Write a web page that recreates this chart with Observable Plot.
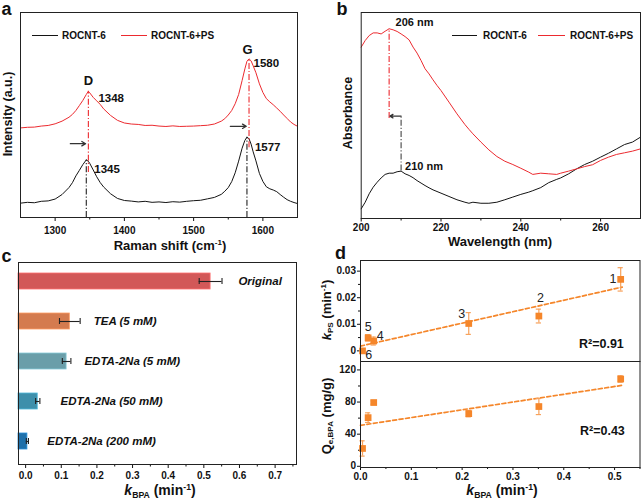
<!DOCTYPE html>
<html><head><meta charset="utf-8">
<script src="https://cdn.jsdelivr.net/npm/d3@7"></script>
<script src="https://cdn.jsdelivr.net/npm/@observablehq/plot@0.6"></script>
<style>
html,body{margin:0;padding:0;background:#fff;}
#root{position:relative;width:641px;height:500px;overflow:hidden;font-family:"Liberation Sans",Arial,Helvetica,sans-serif;color:#111;}
#root svg{position:absolute;overflow:visible;}
.t{position:absolute;white-space:nowrap;font-weight:bold;line-height:1;}
.t sub,.t sup{font-size:0.62em;line-height:0;}
.t sub{vertical-align:-0.35em;}
.t sup{vertical-align:0.6em;}
</style></head><body><div id="root"></div>
<script>
// ---------------- data ----------------
// (a) Raman spectra
const ramanShift = [1250,1260,1270,1280,1290,1300,1310,1320,1325,1330,1335,1340,1345,1348,1350,1355,1360,1365,1370,1380,1390,1400,1410,1420,1430,1440,1450,1460,1470,1480,1490,1500,1510,1520,1530,1540,1545,1550,1555,1560,1565,1570,1574,1577,1580,1583,1586,1590,1595,1600,1605,1610,1615,1620,1625,1630,1635,1640,1645,1650];
const ramanROCNT6 = [7.0,7.4,7.2,7.9,8.1,9.0,11.2,14.6,17.0,20.3,23.0,25.8,28.1,27.4,26.4,23.2,19.9,17.1,14.9,11.6,9.3,8.3,8.0,7.6,7.9,7.4,7.6,7.3,7.7,7.5,7.9,8.2,8.4,9.1,9.8,11.3,12.8,14.6,17.5,21.8,27.5,33.8,37.6,39.2,38.4,35.8,32.0,27.6,21.5,17.6,15.0,14.0,13.4,12.6,11.2,9.9,8.7,7.9,7.3,6.8];
const ramanROCNT6PS = [43.7,44.0,44.1,44.6,44.9,45.7,47.0,48.9,50.3,52.2,54.6,57.1,60.0,61.6,60.8,58.6,56.9,55.2,53.0,49.8,47.4,46.1,45.6,45.4,44.9,45.0,44.6,44.4,44.7,44.4,44.5,44.6,44.8,45.0,45.6,47.0,48.2,50.0,52.2,55.5,60.0,66.8,72.5,76.2,77.4,76.4,74.0,70.6,65.2,61.0,58.0,56.4,55.0,53.4,51.8,50.0,48.3,46.6,45.4,44.5];
// (b) UV-vis absorbance
const uvWavelength = [200,201,202,203,204,205,206,207,208,209,210,211,212,213,214,215,216,217,218,219,220,222,224,226,227,228,230,232,234,236,238,240,242,243,245,247,249,250,252,254,256,258,260,262,264,266,268,270];
const uvROCNT6 = [4.7,7.9,12.0,15.2,17.6,19.7,21.4,22.0,22.0,22.7,23.0,21.7,20.9,19.8,18.4,17.2,16.0,14.9,13.9,13.1,12.3,10.7,9.1,7.9,7.4,7.9,7.4,7.4,7.9,9.1,10.4,11.7,12.8,13.5,15.0,17.4,19.0,19.7,21.7,24.1,26.2,27.8,29.8,31.7,33.8,35.9,37.1,39.5];
const uvROCNT6PS = [83.2,86.4,88.8,90.1,90.1,89.6,90.9,92.1,91.6,90.8,89.6,88.3,86.7,83.2,80.3,76.7,72.7,70.2,67.3,64.6,62.1,56.5,50.8,45.6,43.3,41.1,37.1,33.3,30.1,27.8,26.2,24.4,22.5,21.4,22.0,21.7,21.4,22.0,23.0,24.1,25.2,26.1,28.2,29.8,31.1,31.9,32.7,33.8];
// (c) scavenger experiments
const scavengers = ["Original","TEA (5 mM)","EDTA-2Na (5 mM)","EDTA-2Na (50 mM)","EDTA-2Na (200 mM)"];
const kBPA = [0.519,0.124,0.115,0.034,0.005];
const kBPAErr = [0.032,0.029,0.012,0.006,0.003];
const barColors = ["#d25858","#d47b4f","#6a9ea9","#3e8fab","#1f70aa"];
const scavLabelX = [0.597,0.191,0.165,0.098,0.061];
// (d) correlations
const dKBPA = [0.512,0.351,0.213,0.026,0.015,0.004];
const dKPS = [0.0269,0.0131,0.0103,0.0037,0.0049,0.0];
const dKPSErr = [0.0044,0.0026,0.0041,0.0015,0.0012,0];
const dQe = [108.7,74.4,65.6,79.4,60.6,22.2];
const dQeErr = [4,10,4,2,6,9.5];
const dPointIds = ["1","2","3","4","5","6"];
const dIdX = [0.497,0.354,0.199,0.039,0.015,0.016];
const dIdY = [0.0272,0.0199,0.0137,0.0055,0.0088,-0.0017];
const fitX = [0,0.515];
const fitKPS = [0.0018,0.0240];
const fitQe = [51,100.8];

// ---------------- helpers ----------------
const root = document.getElementById("root");
const FONT = '"Liberation Sans", Arial, Helvetica, sans-serif';
const baseStyle = {fontFamily: FONT, fontSize: "10px", fontWeight: "bold", color: "#111", background: "transparent", overflow: "visible"};
function add(svg, left, top){ svg.style.left = left + "px"; svg.style.top = top + "px"; svg.style.position = "absolute"; root.appendChild(svg); }
function textAt(html, x, baseline, size, anchor, extra){
  const d = document.createElement("div"); d.className = "t"; d.innerHTML = html;
  d.style.fontSize = size + "px"; d.style.top = (baseline - 0.85 * size) + "px"; d.style.left = x + "px";
  if (anchor === "middle") d.style.transform = "translateX(-50%)";
  if (extra) Object.assign(d.style, extra);
  root.appendChild(d);
}
function vText(html, cx, cy, size){
  const d = document.createElement("div"); d.className = "t"; d.innerHTML = html;
  d.style.fontSize = size + "px"; d.style.left = cx + "px"; d.style.top = cy + "px";
  d.style.transform = "translate(-50%,-50%) rotate(-90deg)";
  root.appendChild(d);
}
function legLine(x1, x2, y, color){
  const d = document.createElement("div");
  d.style.cssText = `position:absolute;left:${x1}px;top:${y - 0.6}px;width:${x2 - x1}px;height:1.2px;background:${color}`;
  root.appendChild(d);
}
const DASHDOT = "6,2,1.2,2";
const RED = "#ec2a2f", BLACK = "#141414";

// ---------------- (a) Raman ----------------
const ramanData = ramanShift.map((x, i) => ({x, b: ramanROCNT6[i], r: ramanROCNT6PS[i]}));
const aRules = [
  {x: 1345, y1: 0, y2: 28.1, c: "#222"},
  {x: 1348, y1: 22, y2: 61.6, c: RED},
  {x: 1577, y1: 0, y2: 39.2, c: "#222"},
  {x: 1580, y1: 34, y2: 77.4, c: RED}
];
const aArrows = [{x1: 1322, x2: 1344, y: 36}, {x1: 1553, x2: 1576, y: 44.5}];
const aPeakNames = [{x: 1348, y: 66.8, t: "D"}, {x: 1578, y: 81.8, t: "G"}];
const aPeakVals = [{x: 1381, y: 57.9, t: "1348"}, {x: 1375, y: 23.7, t: "1345"}, {x: 1605, y: 75, t: "1580"}, {x: 1607, y: 34.3, t: "1577"}];
add(Plot.plot({
  width: 320, height: 250, marginLeft: 20, marginRight: 23, marginTop: 12, marginBottom: 33,
  style: baseStyle,
  x: {domain: [1250, 1650]}, y: {domain: [0, 100], axis: null},
  marks: [
    Plot.axisX({ticks: [1300, 1400, 1500, 1600], tickSize: 4, tickPadding: 5, tickFormat: d => String(d), label: null}),
    Plot.axisX({ticks: [1350, 1450, 1550], tickSize: 2.5, tickFormat: () => "", label: null}),
    Plot.line(ramanData, {x: "x", y: "b", stroke: BLACK, strokeWidth: 1}),
    Plot.line(ramanData, {x: "x", y: "r", stroke: RED, strokeWidth: 1}),
    Plot.ruleX(aRules, {x: "x", y1: "y1", y2: "y2", stroke: d => d.c, strokeDasharray: DASHDOT, strokeWidth: 1.1}),
    Plot.arrow(aArrows, {x1: "x1", x2: "x2", y1: "y", y2: "y", stroke: "#333", strokeWidth: 1.3, headLength: 5}),
    Plot.text(aPeakNames, {x: "x", y: "y", text: "t", fontSize: 13, fill: "#111"}),
    Plot.text(aPeakVals, {x: "x", y: "y", text: "t", fontSize: 11.5, fill: "#111"}),
    Plot.frame({stroke: "#222"})
  ]
}), 0, 0);

// ---------------- (b) UV-vis ----------------
const uvData = uvWavelength.map((x, i) => ({x, b: uvROCNT6[i], r: uvROCNT6PS[i]}));
const bRules = [{x: 207, y1: 48.5, y2: 92.1, c: RED}, {x: 210, y1: 23.0, y2: 50.0, c: "#444"}];
const bArrows = [{x1: 210, x2: 207.2, y: 49.7}];
const bLabels = [{x: 208.6, y: 95, t: "206 nm"}, {x: 211, y: 25.4, t: "210 nm"}];
add(Plot.plot({
  width: 321, height: 250, marginLeft: 40.7, marginRight: 1, marginTop: 12, marginBottom: 32,
  style: baseStyle,
  x: {domain: [200, 270]}, y: {domain: [0, 100], axis: null},
  marks: [
    Plot.axisX({ticks: [200, 220, 240, 260], tickSize: 3.5, tickPadding: 2, tickFormat: d => String(d), label: null}),
    Plot.axisX({ticks: [210, 230, 250], tickSize: 2.5, tickFormat: () => "", label: null}),
    Plot.line(uvData, {x: "x", y: "b", stroke: BLACK, strokeWidth: 1}),
    Plot.line(uvData, {x: "x", y: "r", stroke: RED, strokeWidth: 1}),
    Plot.ruleX(bRules, {x: "x", y1: "y1", y2: "y2", stroke: d => d.c, strokeDasharray: DASHDOT, strokeWidth: 1.1}),
    Plot.arrow(bArrows, {x1: "x1", x2: "x2", y1: "y", y2: "y", stroke: "#333", strokeWidth: 1.3, headLength: 4}),
    Plot.text(bLabels, {x: "x", y: "y", text: "t", textAnchor: "start", fontSize: 11, fill: "#111"}),
    Plot.frame({stroke: "#222"})
  ]
}), 320, 0);

// ---------------- (c) scavengers ----------------
const cXDomain = [-0.02, 0.76];
const cData = scavengers.map((name, i) => ({name, k: kBPA[i], err: kBPAErr[i], color: barColors[i], lx: scavLabelX[i]}));
add(Plot.plot({
  width: 320, height: 250, marginLeft: 18, marginRight: 24, marginTop: 12, marginBottom: 36,
  style: baseStyle,
  color: {type: "identity"},
  x: {domain: cXDomain},
  y: {domain: scavengers, paddingInner: 0.61, paddingOuter: 0.27, align: 0.4, axis: null},
  marks: [
    Plot.axisX({ticks: d3.range(0, 8).map(i => i / 10), tickSize: 4, tickPadding: 3, tickFormat: d3.format(".1f"), label: null}),
    Plot.axisX({ticks: d3.range(0, 8).map(i => i / 10 + 0.05), tickSize: 2.5, tickFormat: () => "", label: null}),
    Plot.barX(cData, {x1: cXDomain[0], x2: "k", y: "name", fill: "color", stroke: d => d3.color(d.color).brighter(0.7).formatHex(), strokeWidth: 0.8}),
    Plot.ruleY(cData, {y: "name", x1: d => d.k - d.err, x2: d => d.k + d.err, stroke: "#222", strokeWidth: 1.1}),
    Plot.tickX(cData, {y: "name", x: d => d.k - d.err, insetTop: 5, insetBottom: 5, stroke: "#222", strokeWidth: 1.1}),
    Plot.tickX(cData, {y: "name", x: d => d.k + d.err, insetTop: 5, insetBottom: 5, stroke: "#222", strokeWidth: 1.1}),
    Plot.text(cData, {x: "lx", y: "name", text: "name", textAnchor: "start", fontStyle: "italic", fontWeight: "bold", fontSize: 11.5, fill: "#111"}),
    Plot.frame({stroke: "#222"})
  ]
}), 0, 250);

// ---------------- (d) correlations ----------------
const dXDomain = [0, 0.55];
const dInnerW = 321 - 40 - 1.5;
const capHalf = 2.6 * (dXDomain[1] - dXDomain[0]) / dInnerW;
const ORANGE = "#f5862a", ORANGE_L = "#f7a25c";
const dData = dKBPA.map((x, i) => ({x, kps: dKPS[i], kpsErr: dKPSErr[i], qe: dQe[i], qeErr: dQeErr[i], id: dPointIds[i], ix: dIdX[i], iy: dIdY[i]}));
const fitData = fitX.map((x, i) => ({x, kps: fitKPS[i], qe: fitQe[i]}));
function errMarks(yk, ek){
  const f = dData.filter(d => d[ek] > 0);
  return [
    Plot.ruleX(f, {x: "x", y1: d => d[yk] - d[ek], y2: d => d[yk] + d[ek], stroke: ORANGE_L, strokeWidth: 1.2}),
    Plot.ruleY(f, {y: d => d[yk] + d[ek], x1: d => d.x - capHalf, x2: d => d.x + capHalf, stroke: ORANGE_L, strokeWidth: 1.2}),
    Plot.ruleY(f, {y: d => d[yk] - d[ek], x1: d => d.x - capHalf, x2: d => d.x + capHalf, stroke: ORANGE_L, strokeWidth: 1.2})
  ];
}
add(Plot.plot({
  width: 321, height: 111, marginLeft: 40, marginRight: 1.5, marginTop: 10, marginBottom: 0,
  style: baseStyle,
  x: {domain: dXDomain, axis: null}, y: {domain: [-0.004, 0.034]},
  marks: [
    Plot.axisY({ticks: [0, 0.01, 0.02, 0.03], tickSize: 3, tickPadding: 1.5, tickFormat: d => d === 0 ? "0" : d.toFixed(2), label: null}),
    Plot.axisY({ticks: [0.005, 0.015, 0.025], tickSize: 2, tickFormat: () => "", label: null}),
    Plot.line(fitData, {x: "x", y: "kps", stroke: ORANGE, strokeWidth: 1.7, strokeDasharray: "4,2.5"}),
    ...errMarks("kps", "kpsErr"),
    Plot.dot(dData, {x: "x", y: "kps", symbol: "square", r: 3.8, fill: ORANGE, stroke: "none"}),
    Plot.text(dData, {x: "ix", y: "iy", text: "id", fontSize: 12.5, fontWeight: "normal", fill: "#222"}),
    Plot.text(["R²=0.91"], {x: 0.474, y: 0.0024, text: d => d, fontSize: 12.5, fill: "#111"}),
    Plot.frame({stroke: "#222"})
  ]
}), 320, 250);
add(Plot.plot({
  width: 321, height: 139, marginLeft: 40, marginRight: 1.5, marginTop: 0, marginBottom: 33,
  style: baseStyle,
  x: {domain: dXDomain}, y: {domain: [-1.5, 130.5]},
  marks: [
    Plot.axisY({ticks: [0, 40, 80, 120], tickSize: 3, tickPadding: 1.5, tickFormat: d => String(d), label: null}),
    Plot.axisY({ticks: [20, 60, 100], tickSize: 2, tickFormat: () => "", label: null}),
    Plot.axisX({ticks: d3.range(0, 6).map(i => i / 10), tickSize: 3, tickPadding: 2, tickFormat: d3.format(".1f"), label: null}),
    Plot.axisX({ticks: d3.range(0, 6).map(i => i / 10 + 0.05), tickSize: 2, tickFormat: () => "", label: null}),
    Plot.line(fitData, {x: "x", y: "qe", stroke: ORANGE, strokeWidth: 1.7, strokeDasharray: "4,2.5"}),
    ...errMarks("qe", "qeErr"),
    Plot.dot(dData, {x: "x", y: "qe", symbol: "square", r: 3.8, fill: ORANGE, stroke: "none"}),
    Plot.text(["R²=0.43"], {x: 0.476, y: 43.9, text: d => d, fontSize: 12.5, fill: "#111"}),
    Plot.frame({stroke: "#222"})
  ]
}), 320, 361);

// ---------------- text overlays ----------------
textAt("a", 1.5, 15.5, 18);
textAt("b", 336.5, 15.5, 18);
textAt("c", 1.5, 262, 18);
textAt("d", 335, 259.5, 18);
// legends (a)
legLine(32, 58, 35.7, BLACK); textAt("ROCNT-6", 62, 39.3, 10);
legLine(121, 147, 35.7, RED); textAt("ROCNT-6+PS", 151, 39.3, 10);
// legends (b)
legLine(451.7, 476.7, 35.7, BLACK); textAt("ROCNT-6", 483, 39.3, 10);
legLine(538, 565, 35.7, RED); textAt("ROCNT-6+PS", 570, 39.3, 10);
// axis titles
vText("Intensity (a.u.)", 7.5, 114, 12.5);
textAt("Raman shift (cm<sup>-1</sup>)", 170, 250, 13, "middle");
vText("Absorbance", 347.5, 113, 12.5);
textAt("Wavelength (nm)", 500, 246, 13, "middle");
textAt("<i>k</i><sub>BPA</sub> (min<sup>-1</sup>)", 160, 495, 14, "middle");
vText("<i>k</i><sub>PS</sub> (min<sup>-1</sup>)", 326, 310, 13);
vText("Q<sub>e,BPA</sub> (mg/g)", 326, 416, 13);
textAt("<i>k</i><sub>BPA</sub> (min<sup>-1</sup>)", 502, 495, 14, "middle");
</script></body></html>
